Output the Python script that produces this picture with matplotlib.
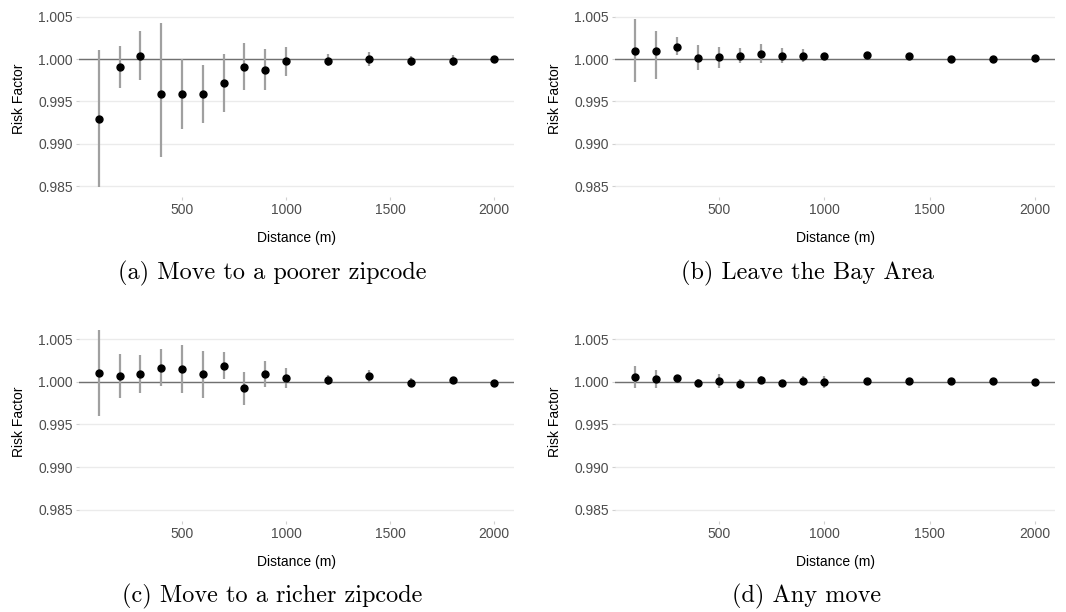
import matplotlib
matplotlib.use('Agg')
import matplotlib.pyplot as plt
import numpy as np

plt.rcParams['font.family'] = ['Liberation Sans', 'DejaVu Sans']

distance = [100, 200, 300, 400, 500, 600, 700, 800, 900, 1000, 1200, 1400, 1600, 1800, 2000]

# (a) move to a poorer zipcode
poorer_rf = [0.99294, 0.99910, 1.00043, 0.99588, 0.99588, 0.99588, 0.99722, 0.99910, 0.99871, 0.99973,
             0.99984, 1.00000, 0.99976, 0.99984, 1.00004]
poorer_lo = [0.98491, 0.99659, 0.99753, 0.98839, 0.99180, 0.99247, 0.99373, 0.99639, 0.99639, 0.99804,
             0.99922, 0.99918, 0.99914, 0.99922, 0.99990]
poorer_hi = [1.00110, 1.00161, 1.00333, 1.00424, 1.00000, 0.99929, 1.00063, 1.00188, 1.00118, 1.00149,
             1.00063, 1.00082, 1.00043, 1.00047, 1.00020]

# (b) leave the bay area
leave_rf = [1.00098, 1.00098, 1.00149, 1.00016, 1.00020, 1.00043, 1.00067, 1.00043, 1.00043, 1.00035,
            1.00051, 1.00043, 1.00000, 1.00000, 1.00012]
leave_lo = [0.99726, 0.99765, 1.00051, 0.99867, 0.99898, 0.99953, 0.99953, 0.99953, 0.99969, 1.00000,
            1.00016, 1.00020, 0.99980, 0.99985, 0.99995]
leave_hi = [1.00470, 1.00329, 1.00259, 1.00173, 1.00149, 1.00137, 1.00176, 1.00133, 1.00122, 1.00070,
            1.00090, 1.00070, 1.00020, 1.00015, 1.00030]

# (c) move to a richer zipcode
richer_rf = [1.00106, 1.00063, 1.00090, 1.00160, 1.00148, 1.00090, 1.00188, 0.99926, 1.00094, 1.00043,
             1.00023, 1.00063, 0.99988, 1.00016, 0.99988]
richer_lo = [0.99600, 0.99809, 0.99863, 0.99945, 0.99863, 0.99809, 1.00031, 0.99730, 0.99941, 0.99930,
             0.99965, 1.00000, 0.99934, 0.99973, 0.99953]
richer_hi = [1.00609, 1.00320, 1.00313, 1.00379, 1.00434, 1.00363, 1.00348, 1.00117, 1.00246, 1.00156,
             1.00082, 1.00133, 1.00043, 1.00059, 1.00023]

# (d) any move
any_rf = [1.00051, 1.00035, 1.00043, 0.99984, 1.00012, 0.99977, 1.00016, 0.99980, 1.00012, 1.00000,
          1.00012, 1.00012, 1.00004, 1.00004, 1.00000]
any_lo = [0.99926, 0.99930, 1.00012, 0.99945, 0.99930, 0.99934, 0.99984, 0.99953, 0.99977, 0.99930,
          0.99990, 0.99995, 0.99990, 0.99990, 0.99985]
any_hi = [1.00188, 1.00141, 1.00082, 1.00031, 1.00094, 1.00035, 1.00063, 1.00012, 1.00063, 1.00070,
          1.00035, 1.00030, 1.00020, 1.00020, 1.00015]

captions = ['(a) Move to a poorer zipcode', '(b) Leave the Bay Area',
            '(c) Move to a richer zipcode', '(d) Any move']
panels = [(poorer_rf, poorer_lo, poorer_hi), (leave_rf, leave_lo, leave_hi),
          (richer_rf, richer_lo, richer_hi), (any_rf, any_lo, any_hi)]

W, H = 1066, 612
fig = plt.figure(figsize=(W / 100, H / 100), dpi=100)

# axes boxes in pixels: left, top, right, bottom
boxes = [(79, 0, 514, 197), (615, 0, 1055, 197),
         (79, 322, 514, 521), (615, 322, 1055, 521)]
cap_pos = [(272, 273), (807, 273), (272, 596), (807, 596)]

for i, (rf, lo, hi) in enumerate(panels):
    l, t, r, b = boxes[i]
    ax = fig.add_axes([l / W, 1 - b / H, (r - l) / W, (b - t) / H])
    x = np.array(distance)
    ax.vlines(x, lo, hi, color='#a0a0a0', lw=1.6, zorder=2)
    ax.axhline(1.0, color='#707070', lw=1.0, zorder=1)
    ax.plot(x, rf, 'o', color='black', markersize=5, zorder=3)
    ax.set_xlim(5, 2095)
    ax.set_ylim(0.9837, 1.0070)
    ax.set_yticks([0.985, 0.990, 0.995, 1.000, 1.005])
    ax.set_yticklabels(['0.985', '0.990', '0.995', '1.000', '1.005'])
    ax.set_xticks([500, 1000, 1500, 2000])
    ax.grid(axis='y', color='#ebebeb', lw=1.0)
    ax.set_axisbelow(True)
    for s in ax.spines.values():
        s.set_visible(False)
    ax.tick_params(colors='#d0d0d0', labelcolor='#4d4d4d', labelsize=10, length=2.5, width=0.8, pad=2)
    ax.set_xlabel('Distance (m)', fontsize=10, labelpad=10)
    ax.set_ylabel('Risk Factor', fontsize=10, labelpad=9)
    cx, cy = cap_pos[i]
    fig.text(cx / W, 1 - cy / H, captions[i], ha='center', va='center',
             family='cmr10', fontsize=17.5)

fig.savefig('out.png', dpi=100)
